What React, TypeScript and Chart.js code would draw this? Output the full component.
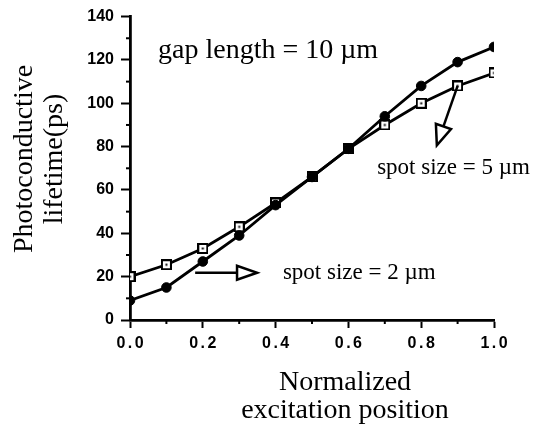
import React, { useEffect, useRef } from "react";
import { Chart, registerables } from "chart.js";

Chart.register(...registerables);

// ---- data ----
const positions = [0, 0.1, 0.2, 0.3, 0.4, 0.5, 0.6, 0.7, 0.8, 0.9, 1.0];
const spot2umLifetime = [9, 15, 27, 39, 53, 66, 79, 94, 108, 119, 126];
const spot5umLifetime = [20, 25.5, 33, 43, 54, 66, 79, 90, 100, 108, 114];
const xTickValues = [0, 0.2, 0.4, 0.6, 0.8, 1.0];
const xMinorTicks = [0.1, 0.3, 0.5, 0.7, 0.9];
const yMinorTicks = [10, 30, 50, 70, 90, 110, 130];
const yTitleLines = ["Photoconductive", "lifetime(ps)"];
const xTitleLines = ["Normalized", "excitation position"];
const gapNote = "gap length = 10 \u00b5m";
const spot5Note = "spot size = 5 \u00b5m";
const spot2Note = "spot size = 2 \u00b5m";

const SERIF = '"Liberation Serif", "Times New Roman", Times, serif';
const SANS = '"Liberation Sans", Arial, Helvetica, sans-serif';

function makeSquareMarker(): HTMLCanvasElement {
  const c = document.createElement("canvas");
  c.width = 11;
  c.height = 11;
  const g = c.getContext("2d")!;
  g.fillStyle = "#000";
  g.fillRect(0, 0, 11, 11);
  g.fillStyle = "#fff";
  g.fillRect(2, 2, 7, 7);
  g.fillStyle = "#000";
  g.fillRect(4.5, 4.5, 2, 2);
  return c;
}

function drawArrow(
  ctx: CanvasRenderingContext2D,
  x1: number,
  y1: number,
  x2: number,
  y2: number,
  headLen: number,
  headHalf: number
) {
  const dx = x2 - x1;
  const dy = y2 - y1;
  const len = Math.hypot(dx, dy);
  const ux = dx / len;
  const uy = dy / len;
  const bx = x2 - ux * headLen;
  const by = y2 - uy * headLen;
  const px = -uy;
  const py = ux;
  ctx.beginPath();
  ctx.moveTo(x1, y1);
  ctx.lineTo(bx, by);
  ctx.stroke();
  ctx.beginPath();
  ctx.moveTo(x2, y2);
  ctx.lineTo(bx + px * headHalf, by + py * headHalf);
  ctx.lineTo(bx - px * headHalf, by - py * headHalf);
  ctx.closePath();
  ctx.fillStyle = "#fff";
  ctx.fill();
  ctx.stroke();
}

const decorPlugin = {
  id: "decor",
  afterDraw(chart: any) {
    const { ctx, chartArea } = chart;
    const xs = chart.scales.x;
    const ys = chart.scales.y;
    ctx.save();
    ctx.strokeStyle = "#000";
    ctx.fillStyle = "#000";

    // minor ticks
    ctx.lineWidth = 2;
    for (const v of yMinorTicks) {
      const py = ys.getPixelForValue(v);
      ctx.beginPath();
      ctx.moveTo(chartArea.left - 4, py);
      ctx.lineTo(chartArea.left, py);
      ctx.stroke();
    }
    for (const v of xMinorTicks) {
      const px = xs.getPixelForValue(v);
      ctx.beginPath();
      ctx.moveTo(px, chartArea.bottom);
      ctx.lineTo(px, chartArea.bottom + 4);
      ctx.stroke();
    }

    // x tick labels (spaced lettering)
    ctx.font = "bold 16px " + SANS;
    (ctx as any).letterSpacing = "2.5px";
    ctx.textAlign = "center";
    ctx.textBaseline = "top";
    for (const v of xTickValues) {
      ctx.fillText(v.toFixed(1), xs.getPixelForValue(v) + 1.25, chartArea.bottom + 16);
    }
    (ctx as any).letterSpacing = "0px";

    // notes
    ctx.textAlign = "left";
    ctx.textBaseline = "alphabetic";
    ctx.font = "28px " + SERIF;
    ctx.fillText(gapNote, xs.getPixelForValue(0.077), ys.getPixelForValue(121));
    ctx.font = "23px " + SERIF;
    ctx.fillText(spot5Note, xs.getPixelForValue(0.679), ys.getPixelForValue(67.3));
    ctx.fillText(spot2Note, xs.getPixelForValue(0.42), ys.getPixelForValue(19.1));

    // arrows
    ctx.lineWidth = 2.5;
    ctx.lineJoin = "miter";
    drawArrow(
      ctx,
      xs.getPixelForValue(0.179),
      ys.getPixelForValue(21.8),
      xs.getPixelForValue(0.349),
      ys.getPixelForValue(21.8),
      20,
      7
    );
    drawArrow(
      ctx,
      xs.getPixelForValue(0.9),
      ys.getPixelForValue(108),
      xs.getPixelForValue(0.843),
      ys.getPixelForValue(80.6),
      20,
      8
    );

    // axis titles
    ctx.fillStyle = "#000";
    ctx.font = "28px " + SERIF;
    ctx.textAlign = "center";
    ctx.textBaseline = "alphabetic";
    ctx.fillText(xTitleLines[0], chartArea.left + 215, 390);
    ctx.fillText(xTitleLines[1], chartArea.left + 215, 418);

    ctx.save();
    ctx.translate(32, 159);
    ctx.rotate(-Math.PI / 2);
    ctx.fillText(yTitleLines[0], 0, 0);
    ctx.fillText(yTitleLines[1], 0, 30);
    ctx.restore();

    ctx.restore();
  },
};

export default function App() {
  const ref = useRef<HTMLCanvasElement | null>(null);

  useEffect(() => {
    const canvas = ref.current;
    if (!canvas) return;
    const square = makeSquareMarker();
    const chart = new Chart(canvas, {
      type: "line",
      data: {
        datasets: [
          {
            label: "spot size = 2 \u00b5m",
            data: positions.map((p, i) => ({ x: p, y: spot2umLifetime[i] })),
            borderColor: "#000",
            backgroundColor: "#000",
            borderWidth: 2.8,
            pointStyle: "circle",
            pointRadius: 4.8,
            pointBorderWidth: 1,
            pointBackgroundColor: "#000",
            pointBorderColor: "#000",
            tension: 0,
            order: 0,
          },
          {
            label: "spot size = 5 \u00b5m",
            data: positions.map((p, i) => ({ x: p, y: spot5umLifetime[i] })),
            borderColor: "#000",
            backgroundColor: "#000",
            borderWidth: 2.8,
            pointStyle: square as any,
            pointRadius: 5,
            tension: 0,
            order: 1,
          },
        ],
      },
      options: {
        animation: false,
        responsive: false,
        events: [],
        layout: { padding: { left: 0, right: 40, top: 12, bottom: 0 } },
        plugins: {
          legend: { display: false },
          tooltip: { enabled: false },
          title: { display: false },
        },
        scales: {
          x: {
            type: "linear",
            min: 0,
            max: 1,
            ticks: { stepSize: 0.2, display: false },
            grid: {
              drawOnChartArea: false,
              drawTicks: true,
              tickLength: 8,
              tickColor: "#000",
              tickWidth: 2,
            },
            border: { display: true, color: "#000", width: 2.8 },
            afterFit: (s: any) => {
              s.height = 108;
            },
          },
          y: {
            min: 0,
            max: 140,
            ticks: {
              stepSize: 20,
              color: "#000",
              padding: 7,
              font: { family: SANS, size: 16, weight: "bold" },
            },
            grid: {
              drawOnChartArea: false,
              drawTicks: true,
              tickLength: 9,
              tickColor: "#000",
              tickWidth: 2,
            },
            border: { display: true, color: "#000", width: 2.8 },
            afterFit: (s: any) => {
              s.width = 130;
            },
          },
        },
      },
      plugins: [decorPlugin],
    });
    return () => chart.destroy();
  }, []);

  return (
    <div style={{ position: "absolute", left: 0, top: 0, width: 534, height: 428, background: "#fff" }}>
      <canvas ref={ref} width={534} height={428} style={{ width: 534, height: 428, display: "block" }} />
    </div>
  );
}
